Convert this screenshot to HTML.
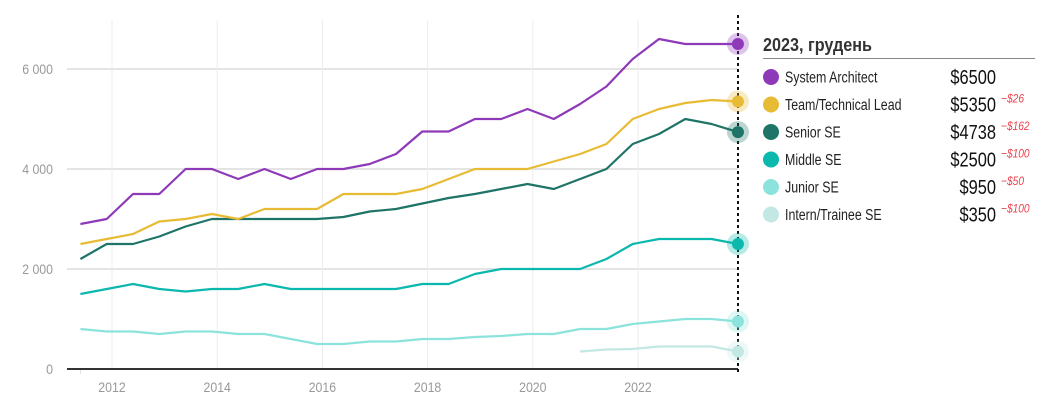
<!DOCTYPE html>
<html><head><meta charset="utf-8"><style>
body{margin:0;background:#fff;width:1057px;height:420px;overflow:hidden;font-family:"Liberation Sans",sans-serif}
svg{position:absolute;left:0;top:0}
</style></head><body>
<svg id="chart" width="1057" height="420">
<g id="grid"></g>
<g id="lines"></g>
<g id="legend"></g>
</svg>
<script>
const dates=[2011.4,2011.9,2012.4,2012.9,2013.4,2013.9,2014.4,2014.9,2015.4,2015.9,2016.4,2016.9,2017.4,2017.9,2018.4,2018.9,2019.4,2019.9,2020.4,2020.9,2021.4,2021.9,2022.4,2022.9,2023.4,2023.9];
const seriesNames=["System Architect","Team/Technical Lead","Senior SE","Middle SE","Junior SE","Intern/Trainee SE"];
const architect=[2900,3000,3500,3500,4000,4000,3800,4000,3800,4000,4000,4100,4300,4750,4750,5000,5000,5200,5000,5300,5650,6200,6600,6500,6500,6500];
const teamLead=[2500,2600,2700,2950,3000,3100,3000,3200,3200,3200,3500,3500,3500,3600,3800,4000,4000,4000,4150,4300,4500,5000,5200,5320,5380,5350];
const senior=[2200,2500,2500,2650,2850,3000,3000,3000,3000,3000,3040,3150,3200,3310,3420,3500,3600,3700,3600,3800,4000,4500,4700,5000,4900,4738];
const middle=[1500,1600,1700,1600,1550,1600,1600,1700,1600,1600,1600,1600,1600,1700,1700,1900,2000,2000,2000,2000,2200,2500,2600,2600,2600,2500];
const junior=[800,750,750,700,750,750,700,700,600,500,500,550,550,600,600,640,660,700,700,800,800,900,950,1000,1000,950];
const intern=[null,null,null,null,null,null,null,null,null,null,null,null,null,null,null,null,null,null,null,350,390,400,450,450,450,350];
const latestValues=["$6500","$5350","$4738","$2500","$950","$350"];
const deltas=["","−$26","−$162","−$100","−$50","−$100"];
const yTicks=[0,2000,4000,6000];
const yTickLabels=["0","2 000","4 000","6 000"];
const xTicks=[2012,2014,2016,2018,2020,2022];
const colors=["#8e3ab8","#e8bb35","#1f7468","#0bb8ad","#8ce3dc","#c3e8e4"];
const allSeries=[architect,teamLead,senior,middle,junior,intern];

const NS="http://www.w3.org/2000/svg";
const X=t=>112+(t-2012)*52.6;
const Y=v=>369-v*0.05;
function mk(tag,attrs,parent){const e=document.createElementNS(NS,tag);for(const k in attrs)e.setAttribute(k,attrs[k]);parent.appendChild(e);return e;}
function condense(t,f){const w=t.getComputedTextLength();t.setAttribute('textLength',(w*f).toFixed(1));t.setAttribute('lengthAdjust','spacingAndGlyphs');}
const grid=document.getElementById('grid'),lines=document.getElementById('lines'),legend=document.getElementById('legend');
yTicks.forEach((v,i)=>{
  if(v>0){const l=mk('line',{x1:67,x2:738,y1:Y(v),y2:Y(v),stroke:'#e4e4e4','stroke-width':2},grid);
  
  }
  const t=mk('text',{x:53,y:Y(v)+5,'text-anchor':'end','font-size':14,fill:'#999'},grid);t.textContent=yTickLabels[i];
  
  
  condense(t,0.88);
});
xTicks.forEach(yr=>{
  const l=mk('line',{x1:X(yr),x2:X(yr),y1:20,y2:369,stroke:'#ececec','stroke-width':1},grid);
  
  
  const t=mk('text',{x:X(yr),y:392,'text-anchor':'middle','font-size':14,fill:'#999'},grid);t.textContent=yr;
  
  
  condense(t,0.88);
});
const tk=mk('line',{x1:X(dates[0]),x2:X(dates[0]),y1:369,y2:374,stroke:'#ddd','stroke-width':1},grid);


const base=mk('line',{x1:67,x2:738,y1:369,y2:369,stroke:'#333','stroke-width':2},grid);


const cur=mk('line',{x1:738,x2:738,y1:15,y2:372,stroke:'#111','stroke-width':2,'stroke-dasharray':'3,3'},grid);


allSeries.slice().reverse().forEach((s,ri)=>{
  const i=allSeries.length-1-ri;
  let d='';s.forEach((v,j)=>{if(v==null)return;d+=(d?'L':'M')+X(dates[j]).toFixed(1)+','+Y(v).toFixed(1);});
  const p=mk('path',{d:d,fill:'none',stroke:colors[i],'stroke-width':2.2,'stroke-linejoin':'round'},lines);
  
  
  const last=s[s.length-1];
  const h=mk('circle',{cx:X(dates[dates.length-1]),cy:Y(last),r:11,fill:colors[i],opacity:0.3},lines);
  
  
  const c=mk('circle',{cx:X(dates[dates.length-1]),cy:Y(last),r:6,fill:colors[i]},lines);
  
  
});
const title=mk('text',{x:763,y:51,'font-size':18,'font-weight':'bold',fill:'#333'},legend);title.textContent='2023, грудень';


title.setAttribute('textLength','109');
title.setAttribute('lengthAdjust','spacingAndGlyphs');
const ul=mk('line',{x1:763,x2:1035,y1:58.5,y2:58.5,stroke:'#888','stroke-width':1},legend);


seriesNames.forEach((n,i)=>{
  const y=77+i*27.5;
  const g=mk('g',{},legend);
  
  
  mk('circle',{cx:771,cy:y,r:8,fill:colors[i]},g);
  const t=mk('text',{x:785,y:y+5.5,'font-size':15.5,fill:'#222'},g);t.textContent=n;
  condense(t,0.8);
  const v=mk('text',{x:996,y:y+7,'text-anchor':'end','font-size':20,fill:'#111'},g);v.textContent=latestValues[i];
  condense(v,0.82);
  if(deltas[i]){const dl=mk('text',{x:1001,y:y-2,'font-size':12,'font-style':'italic',fill:'#e8434f'},g);dl.textContent=deltas[i];condense(dl,0.85);}
});
</script>
</body></html>
